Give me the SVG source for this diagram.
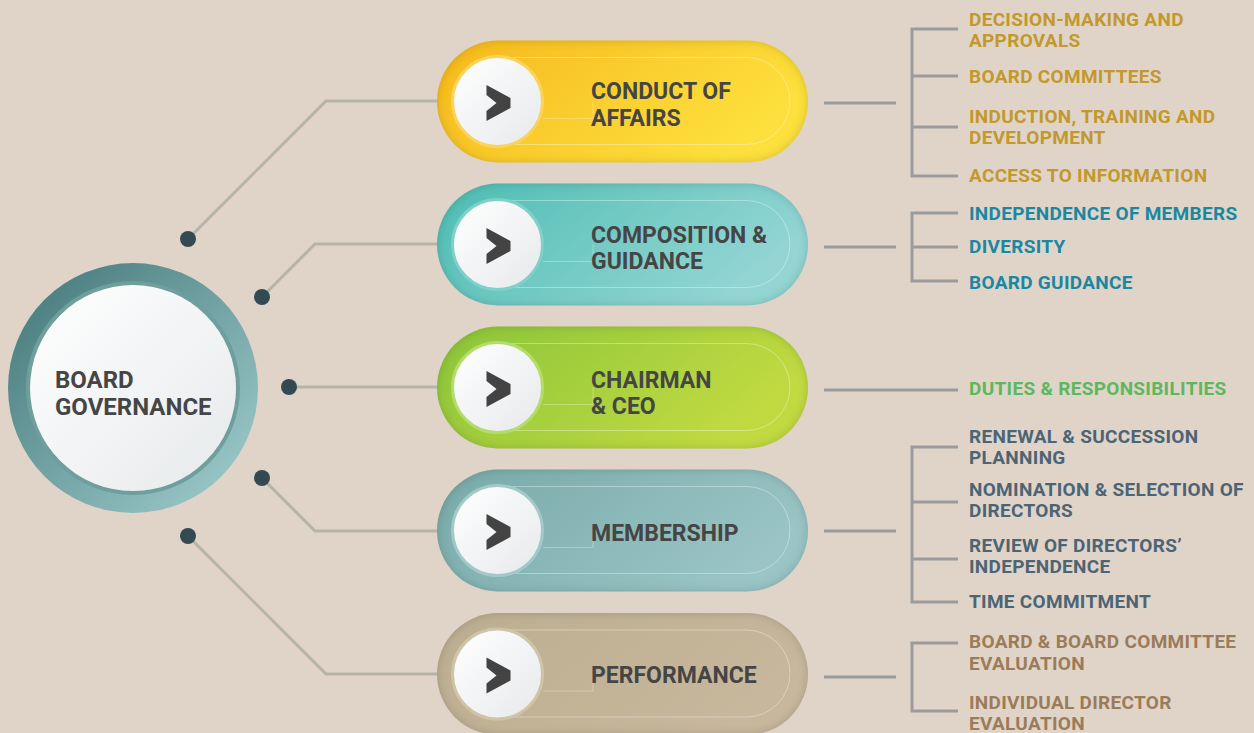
<svg xmlns="http://www.w3.org/2000/svg" width="1254" height="733" viewBox="0 0 1254 733">
<defs>
  <style>
    .pt{font-family:Roboto,"Liberation Sans",sans-serif;font-weight:700;font-size:23px;fill:#454545}
    .big{font-size:24px}
    .rt{font-family:Roboto,"Liberation Sans",sans-serif;font-weight:700;font-size:19px;letter-spacing:0.3px}
    .gold{fill:#c2992a}.teal{fill:#1b87a0}.green{fill:#5cb85c}.slate{fill:#4d6474}.brown{fill:#9b7c59}
    .con{fill:none;stroke:#b6b4a8;stroke-width:3}
    .br{fill:none;stroke:#9b9b9d;stroke-width:3}
    .dot{fill:#344a53}
    .wc{fill:url(#white);stroke-width:3}
    .io{fill:none;stroke:#ffffff;stroke-opacity:0.35;stroke-width:1}
    .stepd{fill:none;stroke:#000;stroke-opacity:0.13;stroke-width:2.5}
    .stepl{fill:none;stroke:#ffffff;stroke-opacity:0.3;stroke-width:1}
    .chev{fill:#434343}
  </style>
  <linearGradient id="white" x1="0" y1="0" x2="1" y2="1">
    <stop offset="0" stop-color="#ffffff"/><stop offset="1" stop-color="#e6e9eb"/>
  </linearGradient>
  <linearGradient id="ring" x1="0.1" y1="0.1" x2="0.9" y2="0.9">
    <stop offset="0" stop-color="#4b7e80"/><stop offset="1" stop-color="#9ac7c8"/>
  </linearGradient>
  <linearGradient id="gY" x1="0" y1="0" x2="1" y2="0.4">
    <stop offset="0" stop-color="#f6b81f"/><stop offset="1" stop-color="#fde03c"/>
  </linearGradient>
  <linearGradient id="gT" x1="0" y1="0" x2="1" y2="0.4">
    <stop offset="0" stop-color="#4dbdb3"/><stop offset="1" stop-color="#93d5d3"/>
  </linearGradient>
  <linearGradient id="gG" x1="0" y1="0" x2="1" y2="0.4">
    <stop offset="0" stop-color="#8ac53a"/><stop offset="1" stop-color="#c2da42"/>
  </linearGradient>
  <linearGradient id="gM" x1="0" y1="0" x2="1" y2="0.4">
    <stop offset="0" stop-color="#78a9a8"/><stop offset="1" stop-color="#9ac4c5"/>
  </linearGradient>
  <linearGradient id="gP" x1="0" y1="0" x2="1" y2="0.4">
    <stop offset="0" stop-color="#bcae91"/><stop offset="1" stop-color="#c7b79c"/>
  </linearGradient>
  <filter id="inset" x="-5%" y="-10%" width="110%" height="120%">
    <feGaussianBlur in="SourceAlpha" stdDeviation="5" result="b"/>
    <feComposite in="SourceAlpha" in2="b" operator="out" result="ringA"/>
    <feFlood flood-color="#1e2a20" flood-opacity="0.35"/>
    <feComposite in2="ringA" operator="in" result="sh"/>
    <feMerge><feMergeNode in="SourceGraphic"/><feMergeNode in="sh"/></feMerge>
  </filter>
  <filter id="soft" x="-10%" y="-100%" width="120%" height="300%">
    <feGaussianBlur stdDeviation="1"/>
  </filter>
  <polygon id="chevron" class="chev" points="-11,-16.5 13,-3.5 13,6.5 -11,19.5 -11,9.5 -1,1.5 -11,-6.5"/>
  <g id="deco">
    <rect class="io" x="453" y="-44" width="337" height="87" rx="43.5"/>
    <path class="stepl" d="M593,0 V17 H543"/>
    <path class="stepd" d="M543,0.5 H593" filter="url(#soft)"/>
  </g>
</defs>

<rect width="1254" height="733" fill="#e0d4c9"/>

<g id="connectors">
  <polyline class="con" points="188,239 326,101 453,101"/>
  <polyline class="con" points="262,297 315,244 453,244"/>
  <polyline class="con" points="289,387 453,387"/>
  <polyline class="con" points="262,478 315,531 453,531"/>
  <polyline class="con" points="188,536 326,674 453,674"/>
  <circle class="dot" cx="188" cy="239" r="8"/>
  <circle class="dot" cx="262" cy="297" r="8"/>
  <circle class="dot" cx="289" cy="387" r="8"/>
  <circle class="dot" cx="262" cy="478" r="8"/>
  <circle class="dot" cx="188" cy="536" r="8"/>

  <line class="br" x1="824" y1="103" x2="896" y2="103"/>
  <path class="br" d="M958,29 H912 V176 H958 M912,76 H958 M912,127 H958"/>

  <line class="br" x1="824" y1="247" x2="896" y2="247"/>
  <path class="br" d="M958,213 H912 V281 H958 M912,247 H958"/>

  <line class="br" x1="824" y1="390" x2="958" y2="390"/>

  <line class="br" x1="824" y1="531" x2="896" y2="531"/>
  <path class="br" d="M958,447 H912 V602 H958 M912,502 H958 M912,559 H958"/>

  <line class="br" x1="824" y1="677" x2="896" y2="677"/>
  <path class="br" d="M958,643 H912 V711 H958"/>
</g>

<g id="board-governance">
  <circle cx="133" cy="388" r="125" fill="url(#ring)"/>
  <circle cx="133" cy="388" r="105" fill="none" stroke="#6f9f9c" stroke-width="4"/>
  <circle cx="133" cy="388" r="103" fill="url(#white)"/>
  <text class="pt big" x="55" y="388">BOARD</text>
  <text class="pt big" x="55" y="415">GOVERNANCE</text>
</g>

<g id="conduct-of-affairs">
  <g transform="translate(0,101.5)">
    <rect x="437" y="-61" width="371" height="122" rx="61" fill="url(#gY)" filter="url(#inset)"/>
    <use href="#deco"/>
    <circle class="wc" cx="497.5" cy="0" r="45" stroke="#f9d35a"/>
    <use href="#chevron" x="497.5" y="0"/>
  </g>
  <text class="pt" x="591" y="99">CONDUCT OF</text>
  <text class="pt" x="591" y="126">AFFAIRS</text>
</g>

<g id="composition-guidance">
  <g transform="translate(0,244.5)">
    <rect x="437" y="-61" width="371" height="122" rx="61" fill="url(#gT)" filter="url(#inset)"/>
    <use href="#deco"/>
    <circle class="wc" cx="497.5" cy="0" r="45" stroke="#7fd0c8"/>
    <use href="#chevron" x="497.5" y="0"/>
  </g>
  <text class="pt" x="591" y="243">COMPOSITION &amp;</text>
  <text class="pt" x="591" y="269">GUIDANCE</text>
</g>

<g id="chairman-ceo">
  <g transform="translate(0,387.5)">
    <rect x="437" y="-61" width="371" height="122" rx="61" fill="url(#gG)" filter="url(#inset)"/>
    <use href="#deco"/>
    <circle class="wc" cx="497.5" cy="0" r="45" stroke="#b3dc6a"/>
    <use href="#chevron" x="497.5" y="0"/>
  </g>
  <text class="pt" x="591" y="388">CHAIRMAN</text>
  <text class="pt" x="591" y="414">&amp; CEO</text>
</g>

<g id="membership">
  <g transform="translate(0,530.5)">
    <rect x="437" y="-61" width="371" height="122" rx="61" fill="url(#gM)" filter="url(#inset)"/>
    <use href="#deco"/>
    <circle class="wc" cx="497.5" cy="0" r="45" stroke="#a2c9c8"/>
    <use href="#chevron" x="497.5" y="0"/>
  </g>
  <text class="pt" x="591" y="541">MEMBERSHIP</text>
</g>

<g id="performance">
  <g transform="translate(0,674)">
    <rect x="437" y="-61" width="371" height="122" rx="61" fill="url(#gP)" filter="url(#inset)"/>
    <use href="#deco"/>
    <circle class="wc" cx="497.5" cy="0" r="45" stroke="#cfc3a8"/>
    <use href="#chevron" x="497.5" y="0"/>
  </g>
  <text class="pt" x="591" y="683">PERFORMANCE</text>
</g>

<g id="conduct-items">
  <text class="rt gold" x="969" y="26">DECISION-MAKING AND</text>
  <text class="rt gold" x="969" y="47">APPROVALS</text>
  <text class="rt gold" x="969" y="83">BOARD COMMITTEES</text>
  <text class="rt gold" x="969" y="123">INDUCTION, TRAINING AND</text>
  <text class="rt gold" x="969" y="144">DEVELOPMENT</text>
  <text class="rt gold" x="969" y="182">ACCESS TO INFORMATION</text>
</g>

<g id="composition-items">
  <text class="rt teal" x="969" y="220">INDEPENDENCE OF MEMBERS</text>
  <text class="rt teal" x="969" y="253">DIVERSITY</text>
  <text class="rt teal" x="969" y="289">BOARD GUIDANCE</text>
</g>

<g id="chairman-items">
  <text class="rt green" x="969" y="395">DUTIES &amp; RESPONSIBILITIES</text>
</g>

<g id="membership-items">
  <text class="rt slate" x="969" y="443">RENEWAL &amp; SUCCESSION</text>
  <text class="rt slate" x="969" y="464">PLANNING</text>
  <text class="rt slate" x="969" y="496">NOMINATION &amp; SELECTION OF</text>
  <text class="rt slate" x="969" y="517">DIRECTORS</text>
  <text class="rt slate" x="969" y="552">REVIEW OF DIRECTORS’</text>
  <text class="rt slate" x="969" y="573">INDEPENDENCE</text>
  <text class="rt slate" x="969" y="608">TIME COMMITMENT</text>
</g>

<g id="performance-items">
  <text class="rt brown" x="969" y="648">BOARD &amp; BOARD COMMITTEE</text>
  <text class="rt brown" x="969" y="670">EVALUATION</text>
  <text class="rt brown" x="969" y="709">INDIVIDUAL DIRECTOR</text>
  <text class="rt brown" x="969" y="730">EVALUATION</text>
</g>
</svg>
